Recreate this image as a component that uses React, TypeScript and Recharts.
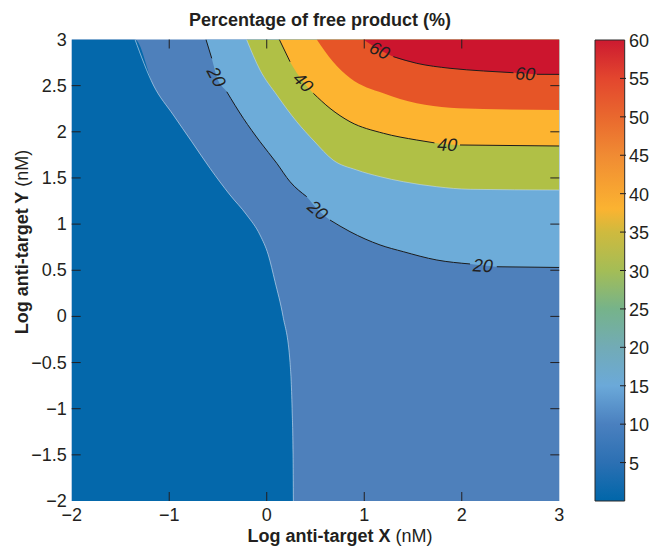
import React from "react";
import {
  ComposedChart,
  Area,
  Line,
  Bar,
  XAxis,
  YAxis,
  CartesianGrid,
  ReferenceDot,
} from "recharts";

type Pt = { x: number; y: number };

const X_DOMAIN: [number, number] = [-2, 3];
const Y_DOMAIN: [number, number] = [-2, 3];
const xTicks = [-2, -1, 0, 1, 2, 3];
const yTicks = [-2, -1.5, -1, -0.5, 0, 0.5, 1, 1.5, 2, 2.5, 3];
const colorbarTicks = [5, 10, 15, 20, 25, 30, 35, 40, 45, 50, 55, 60];
const colorbarData = [{ name: "free product", value: 60 }];

// contour edges, in log X / log Y units
const level10: Pt[] = [
  { x: -2, y: 3 },
  { x: -1.351, y: 3 },
  { x: -1.163, y: 2.507 },
  { x: -0.958, y: 2.182 },
  { x: -0.769, y: 1.893 },
  { x: -0.582, y: 1.605 },
  { x: -0.377, y: 1.316 },
  { x: -0.205, y: 1.099 },
  { x: -0.069, y: 0.882 },
  { x: 0.016, y: 0.666 },
  { x: 0.085, y: 0.376 },
  { x: 0.167, y: 0 },
  { x: 0.239, y: -0.5 },
  { x: 0.26, y: -1 },
  { x: 0.27, y: -1.5 },
  { x: 0.273, y: -2 },
];

const level20: Pt[] = [
  { x: -0.623, y: 3 },
  { x: -0.564, y: 2.796 },
  { x: -0.513, y: 2.597 },
  { x: -0.41, y: 2.434 },
  { x: -0.24, y: 2.146 },
  { x: -0.069, y: 1.893 },
  { x: 0.103, y: 1.659 },
  { x: 0.239, y: 1.459 },
  { x: 0.41, y: 1.297 },
  { x: 0.526, y: 1.153 },
  { x: 0.649, y: 1.044 },
  { x: 0.854, y: 0.918 },
  { x: 1.162, y: 0.774 },
  { x: 1.401, y: 0.701 },
  { x: 1.744, y: 0.611 },
  { x: 2.085, y: 0.568 },
  { x: 2.215, y: 0.553 },
  { x: 2.359, y: 0.538 },
  { x: 3, y: 0.53 },
];

const level30: Pt[] = [
  { x: -0.207, y: 3 },
  { x: -0.069, y: 2.67 },
  { x: 0.103, y: 2.399 },
  { x: 0.308, y: 2.109 },
  { x: 0.485, y: 1.9 },
  { x: 0.68, y: 1.694 },
  { x: 0.923, y: 1.586 },
  { x: 1.162, y: 1.514 },
  { x: 1.401, y: 1.459 },
  { x: 1.744, y: 1.405 },
  { x: 2.085, y: 1.377 },
  { x: 3, y: 1.369 },
];

const level40: Pt[] = [
  { x: 0.129, y: 3 },
  { x: 0.239, y: 2.759 },
  { x: 0.375, y: 2.54 },
  { x: 0.478, y: 2.417 },
  { x: 0.649, y: 2.254 },
  { x: 0.854, y: 2.109 },
  { x: 1.196, y: 1.984 },
  { x: 1.538, y: 1.911 },
  { x: 1.72, y: 1.88 },
  { x: 1.85, y: 1.865 },
  { x: 1.982, y: 1.857 },
  { x: 3, y: 1.846 },
];

const level50: Pt[] = [
  { x: 0.513, y: 3 },
  { x: 0.68, y: 2.76 },
  { x: 0.854, y: 2.583 },
  { x: 1.196, y: 2.417 },
  { x: 1.538, y: 2.309 },
  { x: 1.88, y: 2.261 },
  { x: 2.222, y: 2.247 },
  { x: 3, y: 2.236 },
];

const level60: Pt[] = [
  { x: 0.991, y: 3 },
  { x: 1.16, y: 2.886 },
  { x: 1.298, y: 2.814 },
  { x: 1.538, y: 2.742 },
  { x: 1.88, y: 2.688 },
  { x: 2.222, y: 2.659 },
  { x: 2.53, y: 2.64 },
  { x: 2.65, y: 2.632 },
  { x: 2.769, y: 2.623 },
  { x: 3, y: 2.622 },
];

// inline labels sit on contour points (the line is broken there)
const contourLabels = [
  { level: 20, x: -0.513, y: 2.597, angle: 62 },
  { level: 20, x: 0.526, y: 1.153, angle: 40 },
  { level: 20, x: 2.215, y: 0.553, angle: 3 },
  { level: 40, x: 0.375, y: 2.54, angle: 45 },
  { level: 40, x: 1.85, y: 1.865, angle: 2 },
  { level: 60, x: 1.16, y: 2.886, angle: 25 },
  { level: 60, x: 2.65, y: 2.632, angle: 2 },
];

const colorbarStops = [
  { v: 0, c: "#0066a9" },
  { v: 5, c: "#2c70b3" },
  { v: 10, c: "#4a80bf" },
  { v: 15, c: "#6ba9d9" },
  { v: 20, c: "#72abb6" },
  { v: 25, c: "#76b38a" },
  { v: 30, c: "#a4bd56" },
  { v: 35, c: "#cfba3e" },
  { v: 38, c: "#fbb331" },
  { v: 45, c: "#f08b33" },
  { v: 50, c: "#e9682e" },
  { v: 55, c: "#e3462e" },
  { v: 60, c: "#cc1a30" },
];

const FONT = "'Liberation Sans', Arial, Helvetica, sans-serif";
const INK = "#231f20";
const TICK_LEN = 9;
const CB_TICK_LEN = 6;

const COLORS = {
  mid: "#4e80bb",
  low: "#0468ab",
  l20: "#6dacd9",
  l30: "#b0c046",
  l40: "#fdb430",
  l50: "#e65527",
  l60: "#cc152e",
  seam: "#c9dcef",
  line: "#1c1c1c",
};

const fmt = (v: number) => (v < 0 ? `\u2212${Math.abs(v)}` : String(v));

function withGaps(points: Pt[], level: number) {
  const xs = contourLabels.filter((l) => l.level === level).map((l) => l.x);
  return points.map((p) => (xs.includes(p.x) ? { x: p.x, y: null } : p));
}

const inside = (v: number, d: [number, number]) => v > d[0] && v < d[1];

function BottomTick({ x, y, payload }: any) {
  const v = payload.value;
  return (
    <g>
      {inside(v, X_DOMAIN) && (
        <line x1={x} y1={y} x2={x} y2={y - TICK_LEN} stroke={INK} strokeWidth={1} />
      )}
      <text x={x} y={y + 19.5} textAnchor="middle" fontFamily={FONT} fontSize={18} fill={INK}>
        {fmt(v)}
      </text>
    </g>
  );
}

function TopTick({ x, y, payload }: any) {
  if (!inside(payload.value, X_DOMAIN)) return <g />;
  return <line x1={x} y1={y} x2={x} y2={y + TICK_LEN} stroke={INK} strokeWidth={1} />;
}

function LeftTick({ x, y, payload }: any) {
  const v = payload.value;
  return (
    <g>
      {inside(v, Y_DOMAIN) && (
        <line x1={x} y1={y} x2={x + TICK_LEN} y2={y} stroke={INK} strokeWidth={1} />
      )}
      <text x={x - 5} y={y + 6} textAnchor="end" fontFamily={FONT} fontSize={18} fill={INK}>
        {fmt(v)}
      </text>
    </g>
  );
}

function RightTick({ x, y, payload }: any) {
  if (!inside(payload.value, Y_DOMAIN)) return <g />;
  return <line x1={x} y1={y} x2={x - TICK_LEN} y2={y} stroke={INK} strokeWidth={1} />;
}

function CbLeftTick({ x, y, payload }: any) {
  if (payload.value >= 60) return <g />;
  return <line x1={x} y1={y} x2={x + CB_TICK_LEN} y2={y} stroke={INK} strokeWidth={1} />;
}

function CbRightTick({ x, y, payload }: any) {
  return (
    <g>
      {payload.value < 60 && (
        <line x1={x} y1={y} x2={x - CB_TICK_LEN} y2={y} stroke={INK} strokeWidth={1} />
      )}
      <text x={x + 3} y={y + 7} textAnchor="start" fontFamily={FONT} fontSize={18} fill={INK}>
        {payload.value}
      </text>
    </g>
  );
}

function ContourLabel(props: any) {
  const { cx, cy, text, angle } = props;
  return (
    <text
      x={cx}
      y={cy}
      dy="0.36em"
      textAnchor="middle"
      transform={`rotate(${angle} ${cx} ${cy})`}
      fontFamily={FONT}
      fontStyle="italic"
      fontSize={18}
      fill={INK}
    >
      {text}
    </text>
  );
}

const bands = [
  { data: level20, fill: COLORS.l20 },
  { data: level30, fill: COLORS.l30 },
  { data: level40, fill: COLORS.l40 },
  { data: level50, fill: COLORS.l50 },
  { data: level60, fill: COLORS.l60 },
];

export default function App() {
  return (
    <div style={{ position: "relative", width: 654, height: 546 }}>
      <style>{"body{margin:0}"}</style>
      <svg width={0} height={0} style={{ position: "absolute" }}>
        <defs>
          <linearGradient id="cbGrad" x1="0" y1="1" x2="0" y2="0">
            {colorbarStops.map((s) => (
              <stop key={s.v} offset={s.v / 60} stopColor={s.c} />
            ))}
          </linearGradient>
        </defs>
      </svg>

      {/* contour map */}
      <div style={{ position: "absolute", left: 0, top: 0 }}>
        <ComposedChart
          width={654}
          height={546}
          margin={{ top: 29.5, right: 84.7, bottom: 15, left: 11.7 }}
        >
          <CartesianGrid fill={COLORS.mid} stroke="none" horizontal={false} vertical={false} />
          <XAxis
            type="number"
            dataKey="x"
            domain={X_DOMAIN}
            ticks={xTicks}
            interval={0}
            allowDataOverflow
            height={30}
            tickSize={0}
            tickMargin={0}
            tickLine={false}
            axisLine={false}
            tick={(p: any) => <BottomTick {...p} />}
          />
          <XAxis
            xAxisId="top"
            orientation="top"
            type="number"
            dataKey="x"
            domain={X_DOMAIN}
            ticks={xTicks}
            interval={0}
            allowDataOverflow
            height={10}
            tickSize={0}
            tickMargin={0}
            tickLine={false}
            axisLine={false}
            tick={(p: any) => <TopTick {...p} />}
          />
          <YAxis
            type="number"
            domain={Y_DOMAIN}
            ticks={yTicks}
            interval={0}
            allowDataOverflow
            width={60}
            tickSize={0}
            tickMargin={0}
            tickLine={false}
            axisLine={false}
            tick={(p: any) => <LeftTick {...p} />}
          />
          <YAxis
            yAxisId="right"
            orientation="right"
            type="number"
            domain={Y_DOMAIN}
            ticks={yTicks}
            interval={0}
            allowDataOverflow
            width={10}
            tickSize={0}
            tickMargin={0}
            tickLine={false}
            axisLine={false}
            tick={(p: any) => <RightTick {...p} />}
          />

          <Area
            data={level10}
            dataKey="y"
            type="monotone"
            baseValue={Y_DOMAIN[0]}
            fill={COLORS.low}
            fillOpacity={1}
            stroke="none"
            isAnimationActive={false}
          />
          {bands.map((b, i) => (
            <Area
              key={i}
              data={b.data}
              dataKey="y"
              type="monotone"
              baseValue={Y_DOMAIN[1]}
              fill={b.fill}
              fillOpacity={1}
              stroke="none"
              isAnimationActive={false}
            />
          ))}

          {/* light seams at the unlabelled band edges */}
          <Line
            data={level10.slice(1)}
            dataKey="y"
            type="monotone"
            stroke={COLORS.seam}
            strokeWidth={0.8}
            strokeOpacity={0.8}
            dot={false}
            isAnimationActive={false}
          />
          <Line
            data={level30}
            dataKey="y"
            type="monotone"
            stroke={COLORS.seam}
            strokeWidth={0.8}
            strokeOpacity={0.7}
            dot={false}
            isAnimationActive={false}
          />

          {[
            { level: 20, pts: level20 },
            { level: 40, pts: level40 },
            { level: 60, pts: level60 },
          ].map((c) => (
            <Line
              key={c.level}
              data={withGaps(c.pts, c.level)}
              dataKey="y"
              type="monotone"
              stroke={COLORS.line}
              strokeWidth={1}
              dot={false}
              connectNulls={false}
              isAnimationActive={false}
            />
          ))}

          {contourLabels.map((l, i) => (
            <ReferenceDot
              key={i}
              x={l.x}
              y={l.y}
              r={0}
              shape={(p: any) => <ContourLabel {...p} text={String(l.level)} angle={l.angle} />}
            />
          ))}
        </ComposedChart>
      </div>

      {/* colour bar */}
      <div style={{ position: "absolute", left: 560, top: 0 }}>
        <ComposedChart
          width={94}
          height={546}
          data={colorbarData}
          margin={{ top: 40, right: 0, bottom: 45, left: 23 }}
        >
          <XAxis dataKey="name" type="category" hide />
          <YAxis
            yAxisId="left"
            type="number"
            domain={[0, 60]}
            ticks={colorbarTicks}
            interval={0}
            width={10}
            tickSize={0}
            tickMargin={0}
            tickLine={false}
            axisLine={false}
            tick={(p: any) => <CbLeftTick {...p} />}
          />
          <YAxis
            yAxisId="right"
            orientation="right"
            type="number"
            domain={[0, 60]}
            ticks={colorbarTicks}
            interval={0}
            width={28}
            tickSize={0}
            tickMargin={0}
            tickLine={false}
            axisLine={false}
            tick={(p: any) => <CbRightTick {...p} />}
          />
          <Bar
            yAxisId="right"
            dataKey="value"
            fill="url(#cbGrad)"
            stroke="#2a2a2a"
            strokeWidth={1}
            barSize={33}
            isAnimationActive={false}
          />
        </ComposedChart>
      </div>

      {/* titles */}
      <svg
        width={654}
        height={546}
        style={{ position: "absolute", left: 0, top: 0, pointerEvents: "none" }}
      >
        <text x={320} y={26} textAnchor="middle" fontFamily={FONT} fontSize={18} fontWeight="bold" fill={INK}>
          Percentage of free product (%)
        </text>
        <text x={340} y={542} textAnchor="middle" fontFamily={FONT} fontSize={18} fill={INK}>
          <tspan fontWeight="bold">Log anti-target X</tspan>
          <tspan> (nM)</tspan>
        </text>
        <g transform="translate(28 242) rotate(-90)">
          <text x={0} y={0} textAnchor="middle" fontFamily={FONT} fontSize={18} fill={INK}>
            <tspan fontWeight="bold">Log anti-target Y</tspan>
            <tspan> (nM)</tspan>
          </text>
        </g>
      </svg>
    </div>
  );
}
